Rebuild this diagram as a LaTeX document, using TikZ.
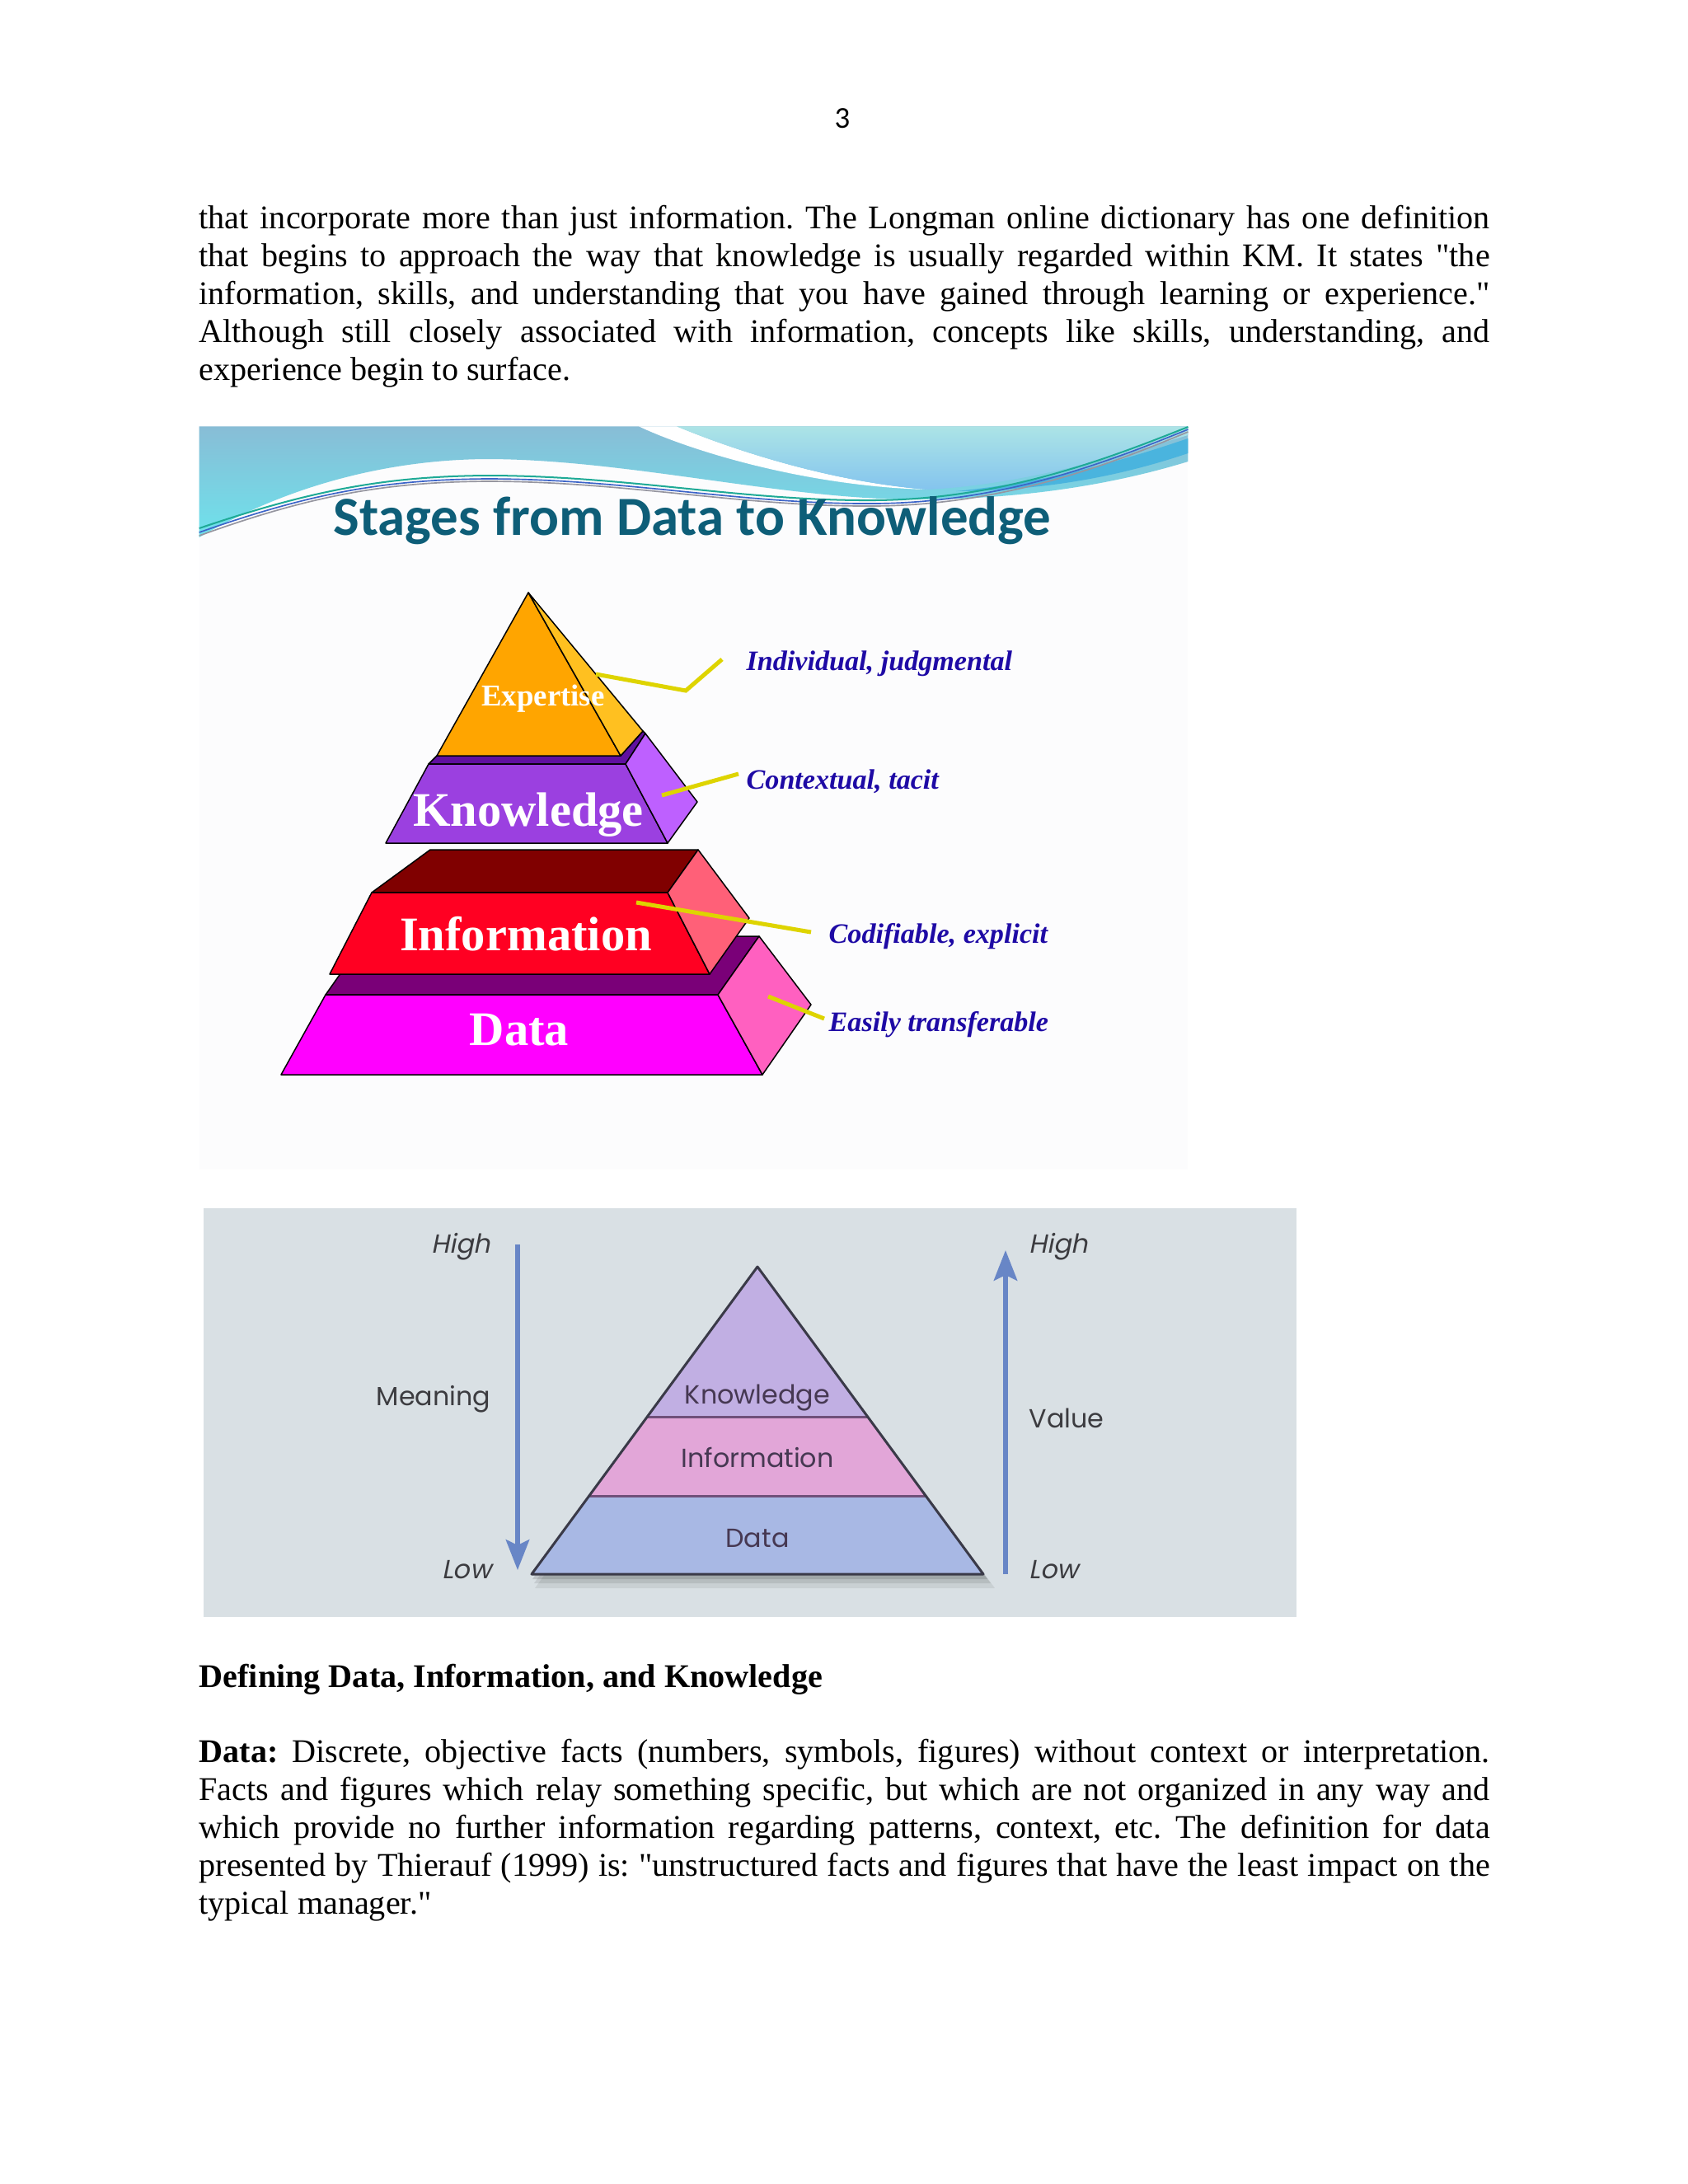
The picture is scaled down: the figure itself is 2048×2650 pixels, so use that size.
\documentclass[tikz,border=0pt]{standalone}
\usepackage{fontspec}
\setmainfont{Liberation Serif}[Ligatures=TeXOff]
\newfontfamily\calfont{Carlito}
\newfontfamily\popfont{Poppins}
\newfontfamily\popslant{Poppins}[FakeSlant=0.2]
\usetikzlibrary{arrows.meta}
\frenchspacing
\definecolor{imgbg}{RGB}{252,252,253}
\definecolor{wavetop}{RGB}{136,189,214}
\definecolor{wavebot}{RGB}{110,226,236}
\definecolor{rtop}{RGB}{172,228,230}
\definecolor{rbot}{RGB}{132,196,238}
\definecolor{bandblue}{RGB}{74,180,222}
\definecolor{titleteal}{RGB}{14,94,120}
\definecolor{thinteal}{RGB}{30,170,150}
\definecolor{thinblue}{RGB}{60,100,200}
\definecolor{thingray}{RGB}{150,150,160}
\definecolor{expfront}{RGB}{255,165,0}
\definecolor{expside}{RGB}{255,192,32}
\definecolor{knowtop}{RGB}{96,16,160}
\definecolor{knowfront}{RGB}{155,64,224}
\definecolor{knowside}{RGB}{190,96,255}
\definecolor{infotop}{RGB}{128,0,0}
\definecolor{infofront}{RGB}{255,0,34}
\definecolor{infoside}{RGB}{255,96,120}
\definecolor{datatop}{RGB}{122,0,120}
\definecolor{datafront}{RGB}{255,0,255}
\definecolor{dataside}{RGB}{255,96,192}
\definecolor{yline}{RGB}{222,212,0}
\definecolor{labelblue}{RGB}{30,10,165}
\definecolor{figbg}{RGB}{217,224,228}
\definecolor{kband}{RGB}{193,175,227}
\definecolor{iband}{RGB}{226,166,216}
\definecolor{dband}{RGB}{168,184,228}
\definecolor{sepline}{RGB}{112,80,122}
\definecolor{triline}{RGB}{58,58,72}
\definecolor{arrowblue}{RGB}{104,134,198}
\definecolor{figtext}{RGB}{60,60,64}
\definecolor{bandtext}{RGB}{70,56,82}
\begin{document}
\begin{tikzpicture}[x=0.298828pt, y=-0.298828pt,
  bodyline/.style={anchor=base west, inner sep=0pt, font=\fontsize{12}{14}\selectfont},
  face/.style={draw=black, line width=0.45pt, line join=round},
  yellowline/.style={draw=yline, line width=1.5pt},
  lab/.style={anchor=base west, inner sep=0pt, text=labelblue, font=\fontsize{10.2}{12}\selectfont\bfseries\itshape},
  tier/.style={anchor=base, inner sep=0pt, text=white, font=\fontsize{17.5}{20}\selectfont\bfseries},
  flab/.style={inner sep=0pt, text=figtext, font=\popfont\fontsize{9.5}{11}\selectfont},
  fslab/.style={inner sep=0pt, text=figtext, font=\popslant\fontsize{9.5}{11}\selectfont},
  blab/.style={anchor=base, inner sep=0pt, text=bandtext, font=\popfont\fontsize{9.5}{11}\selectfont},
  scalearrow/.style={draw=arrowblue, line width=1.5pt, -{Stealth[length=11pt,width=8.5pt,inset=2pt]}},
]
\useasboundingbox (0,0) rectangle (2048,2650);
\fill[white] (0,0) rectangle (2048,2650);

% page number
\node[anchor=base, inner sep=0pt, font=\calfont\fontsize{11}{13}\selectfont] (pg) at (1022,155) {3};

% first paragraph
\node[bodyline] (p1a) at (241,277) {\makebox[468pt][s]{that incorporate more than just information. The Longman online dictionary has one definition}};
\node[bodyline] (p1b) at (241,323) {\makebox[468pt][s]{that begins to approach the way that knowledge is usually regarded within KM. It states "the}};
\node[bodyline] (p1c) at (241,369) {\makebox[468pt][s]{information, skills, and understanding that you have gained through learning or experience."}};
\node[bodyline] (p1d) at (241,415) {\makebox[468pt][s]{Although still closely associated with information, concepts like skills, understanding, and}};
\node[bodyline] (p1e) at (241,461) {experience begin to surface.};

% ===== top image =====
\fill[imgbg] (241.7,517.3) rectangle (1441.4,1419);
\shade[top color=wavetop, bottom color=wavebot]
  (241.7,517.3) -- (1441.4,517.3) -- (1441.4,560)
  .. controls (1360,585) and (1250,606) .. (1110,606)
  .. controls (950,606) and (760,557) .. (590,557)
  .. controls (450,558) and (330,600) .. (241.7,652) -- cycle;
\fill[white] (775,517.3) .. controls (840,548) and (980,590) .. (1125,594)
  .. controls (1000,584) and (880,542) .. (821,517.3) -- cycle;
\shade[top color=rtop, bottom color=rbot]
  (821,517.3) -- (1441.4,517.3) -- (1441.4,528)
  .. controls (1350,555) and (1240,588) .. (1125,594)
  .. controls (1000,584) and (880,542) .. (821,517.3) -- cycle;
\fill[bandblue] (1160,596) .. controls (1280,584) and (1370,556) .. (1441.4,532)
  -- (1441.4,550) .. controls (1370,574) and (1280,595) .. (1160,596) -- cycle;
\draw[thingray, line width=0.5pt] (241.7,650) .. controls (380,600) and (470,585) .. (590,584)
  .. controls (760,584) and (900,615) .. (1060,614) .. controls (1220,613) and (1350,562) .. (1441.4,524);
\draw[thinblue, line width=0.5pt] (241.7,646) .. controls (380,597) and (470,582) .. (590,581)
  .. controls (760,581) and (900,612) .. (1060,611) .. controls (1220,610) and (1350,558) .. (1441.4,521);
\draw[thinteal, line width=0.6pt] (241.7,641) .. controls (380,594) and (470,578) .. (590,577)
  .. controls (760,577) and (900,608) .. (1060,607) .. controls (1220,606) and (1350,554) .. (1441.4,518);
\node[anchor=base, inner sep=0pt, text=titleteal, font=\calfont\bfseries\fontsize{20}{24}\selectfont] (title) at (840,649) {Stages from Data to Knowledge};

% Data block
\filldraw[face, fill=datatop] (395,1207) -- (445,1136) -- (921,1136) -- (871,1207) -- cycle;
\filldraw[face, fill=datafront] (395,1207) -- (871,1207) -- (925,1304) -- (341,1304) -- cycle;
\filldraw[face, fill=dataside] (871,1207) -- (921,1136) -- (984,1219) -- (925,1304) -- cycle;
% Information block
\filldraw[face, fill=infotop] (451,1083) -- (522,1031) -- (847,1031) -- (810,1083) -- cycle;
\filldraw[face, fill=infofront] (451,1083) -- (810,1083) -- (861,1182) -- (400,1182) -- cycle;
\filldraw[face, fill=infoside] (810,1083) -- (847,1031) -- (909,1114) -- (861,1182) -- cycle;
% Knowledge block
\filldraw[face, fill=knowtop] (520,927) -- (530,917) -- (753,917) -- (780,887) -- (783,890) -- (759,927) -- cycle;
\filldraw[face, fill=knowfront] (520,927) -- (759,927) -- (810,1023) -- (468,1023) -- cycle;
\filldraw[face, fill=knowside] (759,927) -- (783,890) -- (846,973) -- (810,1023) -- cycle;
% Expertise
\filldraw[face, fill=expfront] (641,719) -- (753,917) -- (530,917) -- cycle;
\filldraw[face, fill=expside] (641,719) -- (780,887) -- (753,917) -- cycle;

\node[anchor=base, inner sep=0pt, text=white, font=\fontsize{11}{12}\selectfont\bfseries] (texp) at (659,856) {Expertise};
\node[tier] (tknow) at (641,1002) {Knowledge};
\node[tier] (tinfo) at (638,1153) {Information};
\node[tier] (tdata) at (630,1268) {Data};

% yellow callouts
\coordinate (y1a) at (723,818); \coordinate (y1b) at (832,838); \coordinate (y1c) at (876,800);
\coordinate (y2a) at (803,965); \coordinate (y2b) at (896,939);
\coordinate (y3a) at (772,1095); \coordinate (y3b) at (984,1131);
\coordinate (y4a) at (932,1209); \coordinate (y4b) at (1000,1236);
\draw[yellowline] (y1a) -- (y1b) -- (y1c);
\draw[yellowline] (y2a) -- (y2b);
\draw[yellowline] (y3a) -- (y3b);
\draw[yellowline] (y4a) -- (y4b);
\node[lab] (lab1) at (905,813) {Individual, judgmental};
\node[lab] (lab2) at (905,957) {Contextual, tacit};
\node[lab] (lab3) at (1005,1144) {Codifiable, explicit};
\node[lab] (lab4) at (1005,1251) {Easily transferable};

% ===== bottom image =====
\fill[figbg] (246.7,1466) rectangle (1573,1962);
% soft shadow
\fill[black, opacity=0.07] (925,1544) -- (1207,1927) -- (649,1927) -- cycle;
\fill[black, opacity=0.09] (923,1542) -- (1202,1921) -- (648,1921) -- cycle;
\fill[black, opacity=0.12] (921,1540) -- (1198,1916) -- (646,1916) -- cycle;
% bands
\fill[kband] (919,1537) -- (1052.7,1719) -- (785.3,1719) -- cycle;
\fill[iband] (785.3,1719) -- (1052.7,1719) -- (1123.2,1815) -- (714.8,1815) -- cycle;
\fill[dband] (714.8,1815) -- (1123.2,1815) -- (1193,1910) -- (645,1910) -- cycle;
\draw[sepline, line width=0.9pt] (785.3,1719) -- (1052.7,1719);
\draw[sepline, line width=0.9pt] (714.8,1815) -- (1123.2,1815);
\draw[triline, line width=0.9pt, line join=round] (919,1537) -- (1193,1910) -- (645,1910) -- cycle;
\node[blab] (bk) at (919,1703) {Knowledge};
\node[blab] (bi) at (919,1780) {Information};
\node[blab] (bd) at (919,1877) {Data};

\coordinate (mtop) at (628,1510); \coordinate (mbot) at (628,1905);
\coordinate (vbot) at (1220,1910); \coordinate (vtop) at (1220,1517);
\draw[scalearrow] (mtop) -- (mbot);
\draw[scalearrow] (vbot) -- (vtop);
\node[fslab, anchor=base east] (hl) at (596,1520) {High};
\node[flab, anchor=base east] (mn) at (596,1705) {Meaning};
\node[fslab, anchor=base east] (ll) at (597,1915) {Low};
\node[fslab, anchor=base west] (hr) at (1248,1520) {High};
\node[flab, anchor=base west] (vl) at (1248,1732) {Value};
\node[fslab, anchor=base west] (lr) at (1248,1915) {Low};

% ===== second text block =====
\node[bodyline] (hd) at (241,2047) {\textbf{Defining Data, Information, and Knowledge}};
\node[bodyline] (p2a) at (241,2138) {\makebox[468pt][s]{\textbf{Data:} Discrete, objective facts (numbers, symbols, figures) without context or interpretation.}};
\node[bodyline] (p2b) at (241,2184) {\makebox[468pt][s]{Facts and figures which relay something specific, but which are not organized in any way and}};
\node[bodyline] (p2c) at (241,2230) {\makebox[468pt][s]{which provide no further information regarding patterns, context, etc. The definition for data}};
\node[bodyline] (p2d) at (241,2276) {\makebox[468pt][s]{presented by Thierauf (1999) is: "unstructured facts and figures that have the least impact on the}};
\node[bodyline] (p2e) at (241,2322) {typical manager."};
\end{tikzpicture}
\end{document}
